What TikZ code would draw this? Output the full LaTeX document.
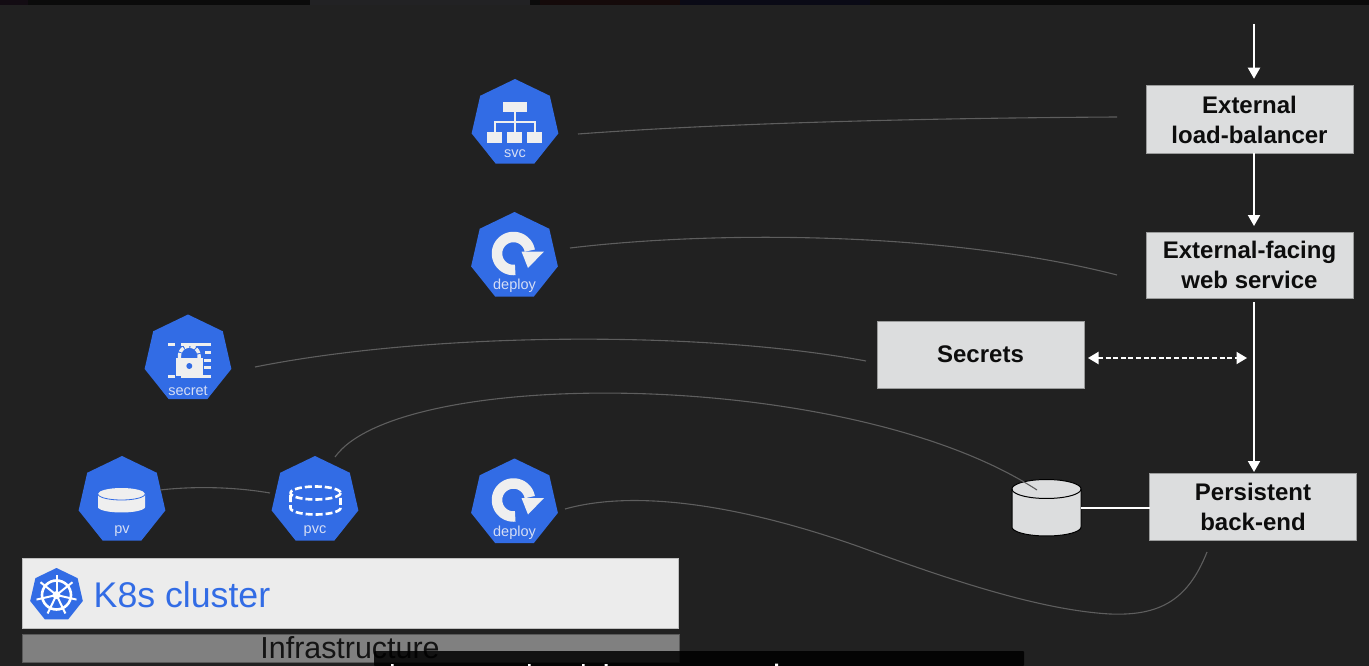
\documentclass[tikz,border=0pt]{standalone}
\usepackage{fontspec}
\setmainfont{Liberation Sans}
\usetikzlibrary{shapes.geometric,arrows.meta,calc}
\definecolor{bgdark}{HTML}{212121}
\definecolor{kblue}{HTML}{326CE5}
\definecolor{boxgrey}{HTML}{DCDDDE}
\definecolor{clusterfill}{HTML}{ECECEC}
\definecolor{infrafill}{HTML}{808080}
\definecolor{curvegrey}{HTML}{5E5E5E}
\definecolor{iconwhite}{HTML}{EFEFEF}
\definecolor{labelwhite}{HTML}{D5DEF5}
\definecolor{stripbase}{HTML}{0B0B0B}
\definecolor{stripa}{HTML}{130C13}
\definecolor{stripb}{HTML}{222224}
\definecolor{stripc}{HTML}{150A0A}
\definecolor{stripd}{HTML}{0A0A16}
\tikzset{
  x=1pt,y=-1pt,
  hept/.style={regular polygon,regular polygon sides=7,minimum size=89pt,inner sep=0pt,outer sep=0pt,fill=kblue},
  hlabel/.style={font=\fontsize{14.5}{14.5}\selectfont,text=labelwhite,inner sep=0pt},
  flowbox/.style={rectangle,fill=boxgrey,draw=boxgrey!70!black,line width=.6pt,inner sep=0pt,outer sep=0pt,align=center,text=black!95,
    font=\fontsize{24}{30}\bfseries\selectfont},
  flow/.style={draw=white,line width=1.9pt,-{Triangle[width=12pt,length=11pt]}},
  wire/.style={draw=curvegrey,line width=1.1pt},
  pics/deployicon/.style={code={
    \draw[iconwhite,line width=10.5pt] plot[domain=84:350,samples=50] ({-1+16.5*cos(\x)},{-3+16.5*sin(\x)});
    \fill[iconwhite] (7,-5) -- (29.5,-5) -- (13.5,11.5) -- cycle;
  }},
}
\begin{document}
\begin{tikzpicture}
\useasboundingbox (0,0) rectangle (1369,666);
\fill[bgdark] (0,0) rectangle (1369,666);
% blurred strip at the top edge
\fill[stripbase] (0,0) rectangle (1369,5);
\fill[stripa] (0,0) rectangle (28,5) ;
\fill[stripb] (310,0) rectangle (530,5);
\fill[stripc] (540,0) rectangle (680,5);
\fill[stripd] (680,0) rectangle (870,5);

% bars
\node[rectangle,fill=clusterfill,draw=white!75!black,line width=.6pt,inner sep=0pt,minimum width=656pt,minimum height=70pt] (cluster) at (350.5,593) {};
\node[rectangle,fill=infrafill,draw=black!65,line width=.5pt,inner sep=0pt,minimum width=657pt,minimum height=28pt] (infra) at (350.5,648) {};
\node[anchor=base,inner sep=0pt,font=\fontsize{30.4}{30.4}\selectfont,text=black!92] (infratext) at (350,658) {Infrastructure};
\node[hept,minimum size=54pt] (logo) at (56.5,595) {};
\draw[white,line width=2.6pt] (logo.center) circle[radius=14.5pt];
\foreach \a in {-90,-38.6,12.9,64.3,115.7,167.1,218.6}
  \draw[white,line width=2pt] (logo.center) -- ++({20.5*cos(\a)},{20.5*sin(\a)});
\fill[white] (logo.center) circle[radius=4pt];
\node[anchor=base west,inner sep=0pt,font=\fontsize{35.7}{35.7}\selectfont,text=kblue] (k8s) at (93.5,607) {K8s cluster};

% hand-drawn free ends
\coordinate (svcA) at (578,134);
\coordinate (svcB) at (1117,117);
\coordinate (depA) at (570,248);
\coordinate (depB) at (1117,275);
\coordinate (secA) at (255,367);
\coordinate (secB) at (866,361);
\coordinate (pvcA) at (335,457);
\coordinate (pvcB) at (1037,490);
\coordinate (pvA) at (160,490);
\coordinate (pvB) at (270,493);
\coordinate (dep3A) at (565,509);
\coordinate (dep3B) at (1207,552);
\coordinate (ax) at (1254,0);
\coordinate (ttop) at (1254,24);

% heptagons
\node[hept] (svc) at (515,123.5) {};
\node[hlabel] (svclabel) at (515,153.5) {svc};
\node[hept] (deployA) at (514.5,256.5) {};
\node[hlabel] (deployAlabel) at (514.5,285.5) {deploy};
\node[hept] (secret) at (188,359) {};
\node[hlabel] (secretlabel) at (188,390.5) {secret};
\node[hept] (pv) at (122,500.5) {};
\node[hlabel] (pvlabel) at (122,531) {pv};
\node[hept] (pvc) at (315,500.5) {};
\node[hlabel] (pvclabel) at (315,531) {pvc};
\node[hept] (deployB) at (514.5,503) {};
\node[hlabel] (deployBlabel) at (514.5,532.5) {deploy};

% svc icon
\fill[iconwhite] (503,102) rectangle (527,112);
\fill[iconwhite] (487,132) rectangle (502,143);
\fill[iconwhite] (507,132) rectangle (522,143);
\fill[iconwhite] (527,132) rectangle (542,143);
\draw[iconwhite,line width=1.8pt] (515,112) -- (515,132) (495,132) -- (495,122) -- (535,122) -- (535,132);
% deploy icons
\pic at (deployA.center) {deployicon};
\pic at (deployB.center) {deployicon};
% secret icon
\fill[iconwhite] (168,343) rectangle (175,346);
\fill[iconwhite] (181,343) rectangle (211,346);
\fill[iconwhite] (205,351) rectangle (211,354);
\fill[iconwhite] (204,359) rectangle (211,362);
\fill[iconwhite] (204,366) rectangle (211,369);
\fill[iconwhite] (168,375) rectangle (175,378);
\fill[iconwhite] (181,375) rectangle (211,378);
\draw[iconwhite,line width=3.4pt,dash pattern=on 5pt off 1.2pt] (179.5,358) -- (179.5,356) -- plot[domain=180:360,samples=20] ({189.3+9.8*cos(\x)},{356+9.8*sin(\x)}) -- (199.1,358);
\fill[iconwhite] (175.7,358) rectangle (203.3,376);
\fill[kblue] (189.3,366) circle[radius=3pt];
% pv icon
\fill[iconwhite] (98,494) -- (98,507) -- plot[domain=180:0,samples=24] ({121.5+23.5*cos(\x)},{507+5.5*sin(\x)}) -- (145,494) -- cycle;
\fill[iconwhite] (121.5,494) circle[x radius=23.5pt,y radius=6pt];
\draw[kblue,line width=.8pt] plot[domain=180:0,samples=24] ({121.5+23.5*cos(\x)},{494+6*sin(\x)});
% pvc icon
\draw[white,line width=2.6pt,dash pattern=on 7pt off 3pt] plot[domain=0:360,samples=50] ({315.5+25*cos(\x)},{493+6.5*sin(\x)});
\draw[white,line width=2.6pt,dash pattern=on 7pt off 3pt] (290.5,495) -- (290.5,508) -- plot[domain=180:0,samples=24] ({315.5+25*cos(\x)},{508+6.5*sin(\x)}) -- (340.5,495);

% boxes
\node[flowbox,minimum width=207pt,minimum height=67.5pt] (lb) at (1249.5,119.5) {External\\load-balancer};
\node[flowbox,minimum width=207pt,minimum height=66pt] (web) at (1249.5,265) {External-facing\\web service};
\node[flowbox,minimum width=207pt,minimum height=67pt] (secrets) at (980.5,354.5) {Secrets};
\node[flowbox,minimum width=207pt,minimum height=67pt] (back) at (1253,506.5) {Persistent\\back-end};
% database cylinder
\node[rectangle,inner sep=0pt,outer sep=0pt,minimum width=69pt,minimum height=57pt] (db) at (1046.5,507.5) {};
\filldraw[fill=boxgrey,draw=black,line width=1pt] (1012,489) -- (1012,527) -- plot[domain=180:0,samples=30] ({1046.5+34.5*cos(\x)},{527+9*sin(\x)}) -- (1081,489) -- plot[domain=0:-180,samples=30] ({1046.5+34.5*cos(\x)},{489+9.5*sin(\x)}) -- cycle;
\draw[black,line width=1pt] plot[domain=180:0,samples=30] ({1046.5+34.5*cos(\x)},{489+9.5*sin(\x)});

% connectors
\draw[flow,shorten >=7pt] (ttop) -- (lb.north -| ax);
\draw[flow,shorten >=6pt] (lb.south -| ax) -- (web.north -| ax);
\draw[flow,shorten <=4pt,shorten >=1pt] (web.south -| ax) -- (back.north -| ax);
\draw[draw=white,line width=1.9pt,dash pattern=on 5pt off 2.6pt,{Triangle[width=12pt,length=10.5pt]}-{Triangle[width=12pt,length=10.5pt]},shorten <=4pt,shorten >=7pt] (secrets.east |- 0,358) -- (ax |- 0,358);
\draw[white,line width=1.9pt] (db.east |- 0,508) -- (back.west |- 0,508);

% hand-drawn curves
\draw[wire] (svcA) .. controls (740,122) and (950,118) .. (svcB);
\draw[wire] (depA) .. controls (720,230) and (950,232) .. (depB);
\draw[wire] (secA) .. controls (430,332) and (700,330) .. (secB);
\draw[wire] (pvcA) .. controls (400,366) and (850,368) .. (pvcB);
\draw[wire] (pvA) .. controls (195,486) and (235,487) .. (pvB);
\draw[wire] (dep3A) .. controls (640,488) and (750,508) .. (860,547) .. controls (950,580) and (1040,610) .. (1110,614) .. controls (1160,616) and (1188,600) .. (dep3B);

% caption bar
\fill[black,opacity=.86,rounded corners=1pt] (374,651) rectangle (1024,666);
\fill[white] (391,664) rectangle (393.5,666) (528,664) rectangle (530.5,666) (582,664) rectangle (584.5,666) (604.5,664) rectangle (607.5,666) (775,663.5) rectangle (778,666);
\end{tikzpicture}
\end{document}
